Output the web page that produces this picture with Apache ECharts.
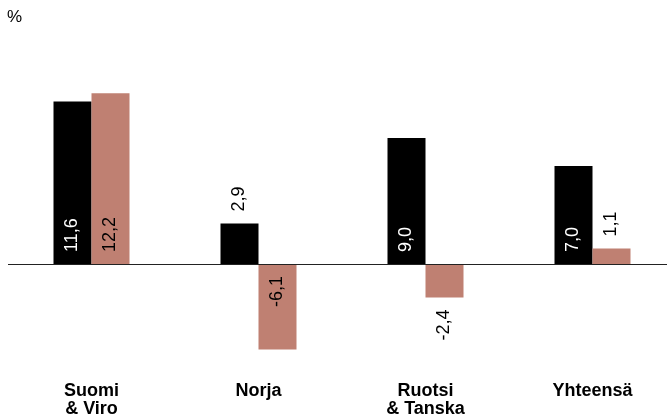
<!DOCTYPE html>
<html>
<head>
<meta charset="utf-8">
<script src="https://cdn.jsdelivr.net/npm/echarts@6/dist/echarts.min.js"></script>
<style>
html,body{margin:0;padding:0;background:#fff;}
#chart{width:667px;height:419px;}
</style>
</head>
<body>
<div id="chart"></div>
<script>
const categories = ['Suomi\n& Viro', 'Norja', 'Ruotsi\n& Tanska', 'Yhteensä'];
const seriesA = [11.6, 2.9, 9.0, 7.0];
const seriesB = [12.2, -6.1, -2.4, 1.1];
const unitLabel = '%';

const FONT = '"Liberation Sans", Arial, sans-serif';
const fmt = v => v.toFixed(1).replace('.', ',');

function makeData(values, insideColor) {
  return values.map(v => {
    const outside = Math.abs(v) < 4;
    const pos = v >= 0 ? (outside ? 'top' : 'insideBottom') : (outside ? 'bottom' : 'insideTop');
    return {
      value: v,
      label: {
        show: true,
        position: pos,
        rotate: 90,
        align: v >= 0 ? 'left' : 'right',
        verticalAlign: 'middle',
        distance: 12,
        color: outside ? '#000' : insideColor,
        fontSize: 18,
        fontFamily: FONT,
        formatter: p => fmt(p.value)
      }
    };
  });
}

const chart = echarts.init(document.getElementById('chart'), null, {renderer: 'canvas'});
chart.setOption({
  animation: false,
  backgroundColor: '#fff',
  graphic: [{
    type: 'text', left: 7, top: 9,
    style: {text: unitLabel, fontSize: 17, fontFamily: FONT, fill: '#000'}
  }],
  grid: {left: 8, width: 668, top: 68, bottom: 43, containLabel: false, outerBoundsMode: 'none'},
  xAxis: {
    type: 'category',
    data: categories,
    axisLine: {show: false, onZero: false},
    axisTick: {show: false},
    axisLabel: {
      margin: 6, fontSize: 18, fontWeight: 'bold', lineHeight: 18,
      color: '#000', fontFamily: FONT, interval: 0
    }
  },
  yAxis: {
    type: 'value', min: -8, max: 14, show: false,
    splitLine: {show: false}
  },
  series: [
    {
      type: 'bar', data: makeData(seriesA, '#fff'), barWidth: 38, barGap: '0%',
      itemStyle: {color: '#000'},
      markLine: {
        silent: true, symbol: 'none', label: {show: false},
        lineStyle: {color: '#222', width: 1, type: 'solid'},
        data: [{yAxis: 0}]
      }
    },
    {
      type: 'bar', data: makeData(seriesB, '#000'), barWidth: 38, barGap: '0%',
      itemStyle: {color: '#bf8072'}
    }
  ]
});
</script>
</body>
</html>
